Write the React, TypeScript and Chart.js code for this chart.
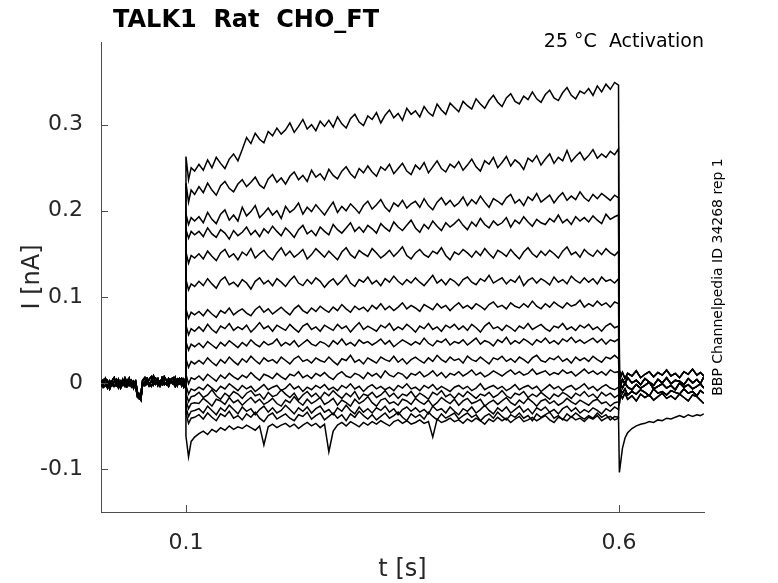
import { useEffect, useRef } from "react";
import { Chart, registerables } from "chart.js";

Chart.register(...registerables);

const TITLE = "TALK1  Rat  CHO_FT";
const CONDITION = "25 °C  Activation";
const SOURCE = "BBP Channelpedia ID 34268 rep 1";
const X_LABEL = "t [s]";
const Y_LABEL = "I [nA]";

const X_TICKS = [0.1, 0.6];
const Y_TICKS = [-0.1, 0, 0.1, 0.2, 0.3];

// time grids (s)
const BASE_T = [
  0.002, 0.0045, 0.007, 0.0095, 0.012, 0.0145, 0.017, 0.0195, 0.022, 0.0245,
  0.027, 0.0295, 0.032, 0.0345, 0.037, 0.0395, 0.042,
  0.044, 0.046, 0.048, 0.05,
  0.0525, 0.055, 0.0575, 0.06, 0.0625, 0.065, 0.0675, 0.07, 0.0725, 0.075,
  0.0775, 0.08, 0.0825, 0.085, 0.0875, 0.09, 0.0925, 0.095, 0.0975,
  0.0998,
];
const PULSE_T = [
  0.1, 0.103, 0.106, 0.11,
  0.115, 0.12, 0.125, 0.13, 0.135, 0.14, 0.145, 0.15, 0.155, 0.16,
  0.165, 0.17, 0.175, 0.18, 0.185, 0.19, 0.195, 0.2, 0.205, 0.21,
  0.215, 0.22, 0.225, 0.23, 0.235, 0.24, 0.245, 0.25, 0.255, 0.26,
  0.265, 0.27, 0.275, 0.28, 0.285, 0.29, 0.295, 0.3, 0.305, 0.31,
  0.315, 0.32, 0.325, 0.33, 0.335, 0.34, 0.345, 0.35, 0.355, 0.36,
  0.365, 0.37, 0.375, 0.38, 0.385, 0.39, 0.395, 0.4, 0.405, 0.41,
  0.415, 0.42, 0.425, 0.43, 0.435, 0.44, 0.445, 0.45, 0.455, 0.46,
  0.465, 0.47, 0.475, 0.48, 0.485, 0.49, 0.495, 0.5, 0.505, 0.51,
  0.515, 0.52, 0.525, 0.53, 0.535, 0.54, 0.545, 0.55, 0.555, 0.56,
  0.565, 0.57, 0.575, 0.58, 0.585, 0.59, 0.595,
  0.5995,
];
const TAIL_T = [
  0.6005, 0.602, 0.604, 0.607,
  0.61, 0.615, 0.62, 0.625, 0.63, 0.635, 0.64, 0.645, 0.65, 0.655,
  0.66, 0.665, 0.67, 0.675, 0.68, 0.685, 0.69,
  0.694, 0.698,
];

// holding current before the step (pA)
const BASE_A = [3, -2, 5, -1, -4, 2, 6, -3, 1, -5, 4, 0, -2, 5, -4, 2, -1, -14, -18, -13, 3, 6, -1, 4, 7, -2, 3, 5, -3, 6, 1, -2, 5, 2, -1, 6, -3, 3, 5, -1, 2];
const BASE_B = [-4, 3, -1, -6, 2, -3, 1, 4, -5, 2, -2, 5, -4, 0, 3, -6, 1, -11, -16, -17, -2, 1, 5, -3, 2, 8, -1, 4, 0, -2, 7, 3, -1, 4, 6, -2, 2, 5, -3, 4, -1];
const BASE_C = [1, -5, -3, 2, -7, 0, -4, -1, 4, -6, -1, -4, 3, -3, -1, -2, -5, -16, -13, -19, 0, -3, 2, 0, -4, 1, 5, -3, 2, 4, -2, 0, -4, 3, 1, -4, 4, -1, 1, -5, 0];

// current during the step (pA), one list per sweep, top to bottom
const SWEEP_01 = [263, 236, 250, 246,
  254, 247, 259, 250, 262, 255, 249, 260, 266, 258,
  271, 285, 278, 290, 283, 279, 292, 287, 296, 289,
  294, 302, 291, 298, 306, 295, 300, 293, 304, 298,
  305, 297, 309, 301, 296, 307, 312, 303, 299, 310,
  306, 314, 302, 311, 317, 308, 313, 305, 319, 312,
  316, 309, 321, 314, 310, 324, 317, 312, 325, 320,
  315, 327, 322, 318, 330, 324, 319, 328, 334, 326,
  321, 331, 336, 327, 324, 333, 329, 338, 330, 326,
  335, 340, 331, 328, 337, 343, 334, 330, 339, 336,
  342, 334, 345, 338, 347, 341, 349,
  346];
const SWEEP_02 = [232, 210, 224, 219,
  228, 221, 232, 224, 218, 229, 234, 226, 222, 231,
  236, 228, 233, 239, 230, 226, 237, 242, 233, 238,
  231, 240, 245, 236, 241, 234, 247, 239, 243, 236,
  248, 241, 237, 246, 251, 243, 238, 249, 244, 252,
  245, 240, 251, 247, 254, 243, 249, 255, 246, 242,
  253, 248, 256, 244, 251, 258, 249, 245, 254, 250,
  257, 247, 253, 260, 251, 246, 258, 254, 262, 250,
  256, 263, 252, 259, 255, 248, 261, 257, 264, 253,
  260, 266, 255, 262, 258, 270, 257, 263, 268, 259,
  264, 271, 261, 266, 262, 269, 265,
  272];
const SWEEP_03 = [196, 184, 192, 188,
  193, 186, 198, 190, 185, 196, 201, 189, 195, 188,
  204, 194, 199, 206, 192, 197, 203, 195, 200, 191,
  205, 198, 202, 209, 196, 204, 199, 207, 201, 195,
  203, 210, 198, 205, 200, 208, 203, 197, 206, 211,
  202, 207, 213, 204, 199, 209, 205, 212, 203, 208,
  211, 204, 214, 206, 201, 210, 215, 207, 212, 205,
  209, 216, 206, 213, 208, 217, 210, 204, 214, 211,
  207, 215, 219, 209, 213, 206, 216, 212, 220, 210,
  214, 218, 209, 216, 221, 212, 217, 213, 222, 215,
  211, 219, 214, 220, 216, 212, 218,
  215];
const SWEEP_04 = [178, 168, 176, 172,
  176, 170, 180, 173, 169, 178, 174, 167, 177, 171,
  175, 181, 172, 177, 170, 179, 174, 182, 176, 171,
  180, 175, 169, 178, 183, 173, 177, 171, 181, 176,
  172, 184, 178, 174, 180, 186, 176, 181, 175, 183,
  179, 174, 185, 180, 176, 187, 181, 177, 183, 189,
  180, 175, 184, 179, 188, 182, 177, 186, 181, 185,
  190, 183, 178, 187, 182, 191, 184, 180, 188, 183,
  186, 192, 181, 189, 185, 193, 187, 182, 190, 186,
  184, 191, 187, 195, 186, 190, 184, 193, 188, 192,
  187, 194, 189, 185, 196, 190, 193,
  195];
const SWEEP_05 = [152, 139, 148, 145,
  150, 144, 153, 147, 142, 151, 155, 146, 150, 143,
  152, 148, 156, 145, 150, 154, 147, 143, 151, 157,
  148, 153, 146, 150, 155, 144, 149, 156, 151, 146,
  153, 148, 143, 152, 157, 149, 145, 154, 150, 147,
  156, 151, 145, 149, 154, 147, 152, 158, 148, 144,
  151, 155, 149, 146, 153, 150, 157, 148, 143, 152,
  149, 155, 151, 146, 153, 148, 156, 150, 145, 154,
  151, 147, 155, 149, 144, 152, 157, 150, 146, 153,
  148, 154, 150, 145, 153, 158, 149, 152, 146, 155,
  150, 147, 154, 149, 156, 151, 148,
  153];
const SWEEP_06 = [120, 108, 115, 112,
  118, 113, 121, 115, 110, 119, 123, 114, 117, 112,
  120, 116, 109, 118, 122, 115, 119, 113, 121, 117,
  112, 119, 124, 116, 113, 120, 115, 122, 118, 111,
  117, 121, 114, 119, 125, 116, 112, 120, 117, 123,
  115, 119, 113, 121, 117, 124, 118, 114, 120, 116,
  122, 117, 113, 119, 125, 116, 120, 114, 121, 118,
  113, 120, 123, 117, 114, 121, 118, 125, 116, 119,
  122, 115, 120, 117, 124, 113, 119, 122, 116, 121,
  118, 114, 123, 117, 120, 115, 124, 119, 116, 122,
  117, 121, 115, 123, 118, 120, 116,
  121];
const SWEEP_07 = [86, 75, 82, 79,
  83, 78, 85, 80, 76, 84, 81, 87, 79, 83,
  86, 81, 78, 85, 89, 82, 86, 80, 84, 88,
  83, 79, 86, 90, 84, 81, 87, 83, 89, 85,
  82, 88, 84, 91, 86, 82, 89, 85, 88, 83,
  90, 86, 92, 85, 89, 84, 88, 93, 86, 90,
  87, 83, 91, 88, 85, 92, 87, 90, 84, 89,
  93, 87, 90, 86, 92, 89, 85, 91, 94, 88,
  90, 86, 93, 89, 87, 92, 88, 95, 89, 86,
  92, 88, 94, 90, 87, 93, 89, 91, 96, 88,
  92, 89, 95, 90, 93, 88, 94,
  92];
const SWEEP_08 = [67, 56, 63, 60,
  65, 60, 68, 62, 58, 66, 63, 69, 61, 65,
  62, 67, 59, 64, 70, 63, 66, 60, 67, 64,
  61, 68, 63, 59, 66, 69, 62, 65, 60, 67,
  64, 61, 68, 63, 66, 59, 65, 70, 62, 66,
  63, 60, 67, 64, 69, 61, 65, 62, 68, 64,
  59, 66, 63, 69, 62, 65, 60, 67, 64, 68,
  62, 66, 61, 68, 64, 59, 66, 70, 63, 65,
  61, 67, 64, 60, 66, 63, 69, 62, 65, 68,
  63, 60, 66, 64, 69, 62, 65, 61, 67, 64,
  68, 62, 65, 60, 66, 69, 64,
  66];
const SWEEP_09 = [48, 38, 45, 42,
  46, 41, 48, 44, 40, 47, 43, 49, 45, 41,
  47, 43, 50, 45, 42, 48, 44, 46, 51, 43,
  47, 44, 49, 42, 46, 50, 45, 43, 48, 46,
  42, 49, 45, 51, 44, 47, 43, 50, 46, 48,
  44, 47, 51, 45, 49, 42, 46, 50, 47, 44,
  48, 45, 52, 46, 43, 49, 47, 51, 44, 48,
  46, 50, 44, 48, 52, 45, 49, 47, 43, 50,
  47, 53, 45, 49, 46, 51, 48, 44, 50, 47,
  52, 46, 49, 45, 51, 48, 53, 47, 50, 46,
  49, 52, 47, 51, 45, 50, 48,
  51];
const SWEEP_10 = [28, 18, 25, 22,
  26, 22, 29, 24, 20, 27, 23, 30, 25, 21,
  28, 24, 31, 26, 22, 29, 25, 27, 23, 30,
  26, 22, 28, 31, 25, 27, 23, 29, 26, 24,
  30, 25, 21, 28, 26, 32, 24, 27, 22, 29,
  26, 23, 30, 27, 25, 31, 24, 28, 22, 27,
  30, 26, 23, 29, 25, 32, 27, 24, 30, 26,
  28, 23, 31, 27, 25, 30, 26, 22, 29, 27,
  31, 25, 28, 24, 30, 27, 23, 29, 32, 26,
  24, 29, 27, 31, 25, 28, 23, 30, 26, 29,
  25, 31, 27, 24, 30, 28, 32,
  28];
const SWEEP_11 = [10, -1, 6, 4,
  8, 3, 10, 6, 2, 9, 5, 11, 7, 4,
  9, 6, 12, 7, 3, 10, 8, 5, 11, 7,
  4, 10, 8, 13, 6, 9, 5, 11, 8, 12,
  7, 4, 10, 13, 8, 6, 11, 9, 5, 12,
  8, 11, 6, 14, 9, 7, 12, 10, 5, 11,
  9, 13, 7, 10, 14, 8, 12, 6, 11, 9,
  13, 8, 11, 15, 9, 12, 7, 10, 14, 11,
  8, 12, 15, 10, 13, 9, 11, 16, 10, 12,
  14, 9, 12, 10, 15, 11, 13, 8, 12, 16,
  11, 14, 10, 13, 9, 15, 12,
  13];
const SWEEP_12 = [-3, -13, -7, -9,
  -5, -8, -2, -6, -10, -4, -7, -1, -5, -9,
  -3, -7, -4, -10, -6, -2, -8, -5, -3, -9,
  -6, -1, -7, -4, -10, -5, -8, -3, -6, -2,
  -8, -5, -9, -3, -6, -1, -7, -4, -10, -5,
  -2, -7, -4, -8, -5, -9, -3, -6, -1, -7,
  -5, -9, -3, -6, -2, -8, -4, -7, -10, -5,
  -3, -7, -4, -9, -6, -1, -8, -5, -3, -7,
  -4, -9, -6, -2, -8, -5, -3, -7, -4, -10,
  -6, -2, -7, -4, -9, -5, -3, -8, -5, -1,
  -7, -4, -9, -5, -2, -6, -8,
  -5];
const SWEEP_13 = [-12, -22, -16, -15,
  -11, -17, -14, -8, -15, -19, -12, -16, -10, -13,
  -18, -12, -9, -15, -13, -19, -11, -16, -14, -8,
  -13, -17, -12, -20, -14, -10, -16, -12, -18, -11,
  -15, -9, -14, -18, -12, -16, -10, -19, -13, -15,
  -11, -17, -14, -9, -16, -12, -18, -13, -15, -10,
  -17, -12, -15, -19, -11, -14, -9, -16, -13, -18,
  -12, -16, -10, -14, -18, -13, -15, -11, -17, -14,
  -9, -15, -18, -12, -14, -10, -17, -13, -16, -11,
  -15, -19, -13, -16, -11, -14, -18, -12, -15, -10,
  -16, -13, -18, -11, -15, -12, -17,
  -14];
const SWEEP_14 = [-20, -30, -24, -23,
  -24, -18, -22, -27, -19, -21, -25, -17, -23, -20,
  -26, -21, -17, -23, -19, -25, -22, -18, -24, -27,
  -20, -23, -16, -22, -26, -19, -24, -21, -17, -25,
  -22, -18, -26, -20, -23, -27, -19, -24, -21, -16,
  -23, -27, -20, -18, -24, -22, -26, -19, -21, -25,
  -18, -22, -25, -20, -27, -23, -17, -21, -24, -19,
  -26, -21, -18, -24, -22, -19, -27, -23, -20, -25,
  -21, -17, -23, -26, -20, -24, -18, -22, -27, -21,
  -19, -24, -21, -26, -23, -18, -22, -25, -20, -23,
  -26, -21, -19, -24, -22, -27, -23,
  -22];
const SWEEP_15 = [-28, -39, -33, -32,
  -30, -35, -27, -32, -37, -29, -33, -26, -31, -36,
  -28, -33, -30, -37, -31, -27, -34, -29, -35, -32,
  -26, -31, -36, -29, -33, -28, -35, -30, -27, -34,
  -31, -37, -29, -33, -26, -32, -36, -28, -34, -30,
  -35, -29, -32, -27, -34, -30, -37, -31, -28, -33,
  -29, -34, -31, -36, -27, -32, -30, -35, -28, -33,
  -37, -30, -33, -28, -35, -31, -26, -32, -36, -29,
  -33, -28, -35, -31, -27, -34, -30, -36, -29, -32,
  -28, -34, -31, -36, -30, -27, -33, -29, -35, -31,
  -34, -29, -32, -36, -30, -33, -28,
  -31];
const SWEEP_16 = [-35, -47, -41, -40,
  -37, -42, -35, -40, -44, -36, -39, -33, -41, -38,
  -43, -36, -40, -34, -41, -45, -38, -35, -42, -39,
  -36, -41, -44, -37, -39, -34, -42, -38, -35, -43,
  -39, -35, -41, -37, -44, -36, -40, -33, -38, -42,
  -37, -43, -39, -35, -41, -38, -34, -40, -44, -36,
  -40, -37, -42, -34, -39, -43, -36, -41, -38, -35,
  -42, -38, -35, -40, -37, -44, -39, -36, -41, -34,
  -39, -43, -37, -40, -35, -41, -38, -44, -36, -40,
  -37, -34, -41, -38, -43, -36, -40, -35, -39, -42,
  -38, -41, -35, -40, -37, -43, -39,
  -40];
const SWEEP_17 = [-62, -86, -68, -63,
  -59, -56, -60, -54, -57, -52, -55, -50, -54, -51,
  -53, -49, -52, -55, -50, -72, -51, -48, -52, -49,
  -47, -51, -48, -53, -49, -46, -50, -47, -52, -48,
  -80, -56, -49, -46, -50, -45, -48, -51, -46, -49,
  -45, -48, -44, -47, -50, -45, -43, -47, -44, -48,
  -46, -43, -47, -45, -63, -42, -46, -44, -41, -45,
  -43, -47, -42, -45, -41, -44, -48, -42, -45, -40,
  -44, -41, -46, -42, -39, -45, -43, -40, -44, -41,
  -38, -43, -46, -40, -42, -44, -39, -43, -41, -45,
  -40, -42, -38, -44, -41, -39, -43,
  -41];

// tail current after the step (pA)
const TAIL_A = [15, 7, 12, 5, 11, 8, 14, 6, 10, 13, 7, 12, 9, 15, 8, 11, 6, 13, 10, 16, 9, 12, 8];
const TAIL_B = [5, -3, 4, -1, 6, 0, 3, -2, 5, 1, -3, 4, 0, 6, -1, 3, 2, -2, 5, 0, 4, -1, 7];
const TAIL_C = [-9, -2, -6, 0, -5, -8, -2, -6, -3, 1, -7, -4, -1, -6, -3, -8, 0, -5, -2, -7, -4, -1, -6];
const TAIL_D = [-17, -8, -12, -7, -14, -10, -13, -8, -11, -15, -7, -12, -10, -14, -9, -11, -13, -7, -12, -10, -15, -9, -12];
const TAIL_E = [-24, -13, -18, -12, -19, -15, -21, -13, -17, -14, -20, -16, -12, -18, -15, -19, -13, -17, -21, -14, -16, -20, -24];
const TAIL_LOW = [-104, -92, -76, -64, -58, -53, -50, -48, -47, -45, -46, -43, -44, -41, -42, -40, -38, -40, -37, -39, -37, -38, -36];

const SWEEPS = [
  SWEEP_01, SWEEP_02, SWEEP_03, SWEEP_04, SWEEP_05, SWEEP_06, SWEEP_07, SWEEP_08, SWEEP_09,
  SWEEP_10, SWEEP_11, SWEEP_12, SWEEP_13, SWEEP_14, SWEEP_15, SWEEP_16, SWEEP_17,
];
const SWEEP_BASE = [BASE_A, BASE_B, BASE_C, BASE_A, BASE_B, BASE_C, BASE_A, BASE_B, BASE_C, BASE_A, BASE_B, BASE_C, BASE_A, BASE_B, BASE_C, BASE_A, BASE_B];
const SWEEP_TAIL = [TAIL_A, TAIL_A, TAIL_B, TAIL_A, TAIL_B, TAIL_C, TAIL_B, TAIL_C, TAIL_D, TAIL_C, TAIL_D, TAIL_E, TAIL_D, TAIL_E, TAIL_C, TAIL_B, TAIL_LOW];

const FONT = "'DejaVu Sans', 'Liberation Sans', sans-serif";
const AXIS_COLOR = "#4d4d4d";
const TEXT_COLOR = "#262626";

const toPoints = (times: number[], values: number[]) =>
  times.map((t, i) => ({ x: t, y: values[i] / 1000 }));

const decorations = {
  id: "decorations",
  afterDraw(chart: Chart) {
    const { ctx, chartArea: a, scales } = chart;
    ctx.save();
    ctx.strokeStyle = AXIS_COLOR;
    ctx.lineWidth = 1;
    ctx.beginPath();
    Y_TICKS.forEach((v) => {
      const y = Math.round(scales.y.getPixelForValue(v)) + 0.5;
      ctx.moveTo(a.left, y);
      ctx.lineTo(a.left + 7, y);
    });
    X_TICKS.forEach((v) => {
      const x = Math.round(scales.x.getPixelForValue(v)) + 0.5;
      ctx.moveTo(x, a.bottom);
      ctx.lineTo(x, a.bottom - 7);
    });
    ctx.stroke();

    ctx.fillStyle = "#000";
    ctx.textBaseline = "alphabetic";
    ctx.font = `bold 24px ${FONT}`;
    ctx.textAlign = "left";
    ctx.fillText(TITLE, 113, 27);

    ctx.font = `19px ${FONT}`;
    ctx.textAlign = "right";
    ctx.fillText(CONDITION, 704, 47);

    ctx.fillStyle = TEXT_COLOR;
    ctx.font = `24px ${FONT}`;
    ctx.textAlign = "center";
    ctx.fillText(X_LABEL, (a.left + a.right) / 2, 576);

    ctx.save();
    ctx.translate(39, (a.top + a.bottom) / 2);
    ctx.rotate(-Math.PI / 2);
    ctx.fillText(Y_LABEL, 0, 0);
    ctx.restore();

    ctx.save();
    ctx.fillStyle = "#000";
    ctx.font = `14px ${FONT}`;
    ctx.translate(722, (a.top + a.bottom) / 2);
    ctx.rotate(-Math.PI / 2);
    ctx.fillText(SOURCE, 0, 0);
    ctx.restore();

    ctx.restore();
  },
};

export default function App() {
  const canvasRef = useRef<HTMLCanvasElement>(null);
  const chartRef = useRef<Chart | null>(null);

  useEffect(() => {
    if (!canvasRef.current) return;
    if (chartRef.current) chartRef.current.destroy();

    const datasets = SWEEPS.map((sweep, i) => ({
      label: `sweep ${i + 1}`,
      data: [
        ...toPoints(BASE_T, SWEEP_BASE[i]),
        ...toPoints(PULSE_T, sweep),
        ...toPoints(TAIL_T, SWEEP_TAIL[i]),
      ],
      borderColor: "#000",
      borderWidth: 1.5,
      pointRadius: 0,
      tension: 0,
      fill: false,
    }));

    chartRef.current = new Chart(canvasRef.current, {
      type: "line",
      data: { datasets },
      options: {
        animation: false,
        responsive: true,
        maintainAspectRatio: false,
        events: [],
        layout: { padding: { top: 42, right: 74, bottom: 0, left: 0 } },
        plugins: {
          legend: { display: false },
          tooltip: { enabled: false },
          title: { display: false },
        },
        scales: {
          x: {
            type: "linear",
            min: 0.0019,
            max: 0.6982,
            grid: { display: false },
            border: { display: true, color: AXIS_COLOR, width: 1 },
            ticks: {
              color: TEXT_COLOR,
              font: { family: FONT, size: 22 },
              padding: 10,
              maxRotation: 0,
              autoSkip: false,
              callback: (v) => String(v),
            },
            afterBuildTicks: (s) => {
              s.ticks = X_TICKS.map((v) => ({ value: v }));
            },
            afterFit: (s) => {
              s.height = 71;
            },
          },
          y: {
            type: "linear",
            min: -0.15,
            max: 0.396,
            grid: { display: false },
            border: { display: true, color: AXIS_COLOR, width: 1 },
            ticks: {
              color: TEXT_COLOR,
              font: { family: FONT, size: 22 },
              padding: 10,
              autoSkip: false,
              callback: (v) => String(v),
            },
            afterBuildTicks: (s) => {
              s.ticks = Y_TICKS.map((v) => ({ value: v }));
            },
            afterFit: (s) => {
              s.width = 101;
            },
          },
        },
      },
      plugins: [decorations],
    });

    return () => {
      if (chartRef.current) {
        chartRef.current.destroy();
        chartRef.current = null;
      }
    };
  }, []);

  return (
    <div style={{ position: "fixed", left: 0, top: 0, width: 778, height: 583, background: "#fff" }}>
      <canvas ref={canvasRef} />
    </div>
  );
}
